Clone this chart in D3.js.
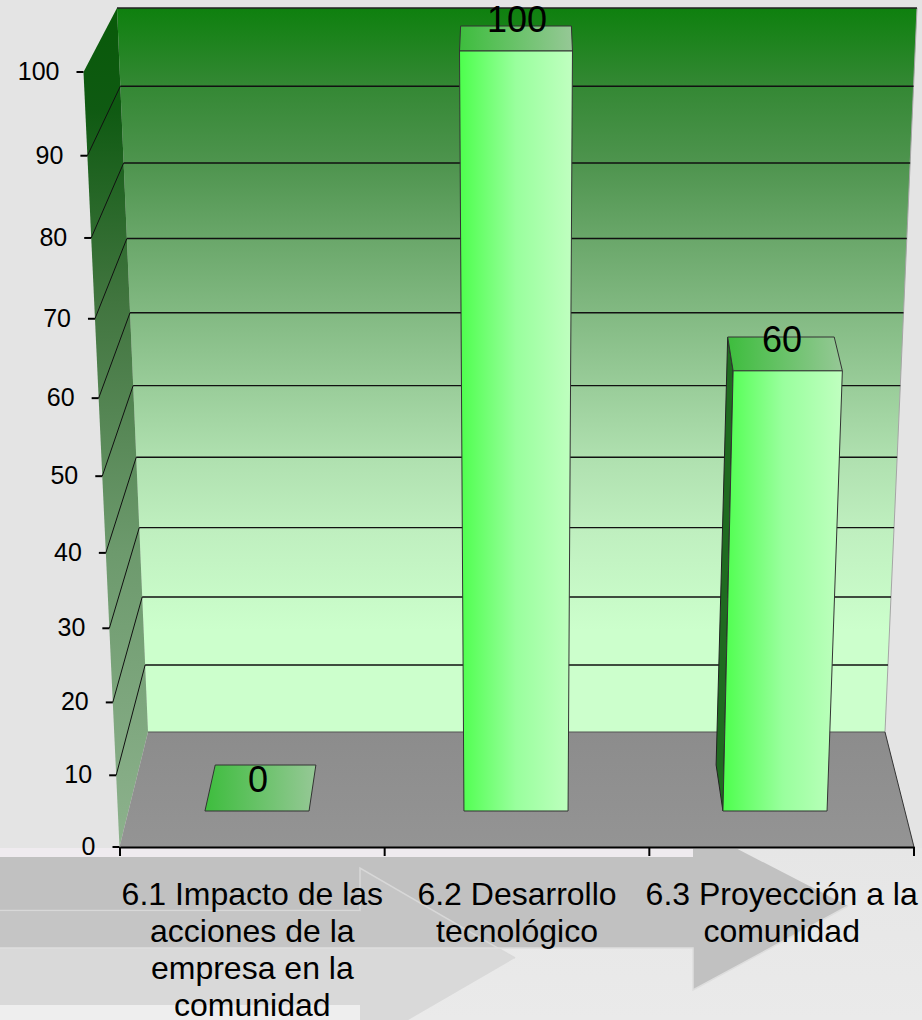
<!DOCTYPE html>
<html>
<head>
<meta charset="utf-8">
<title>Chart</title>
<script src="https://cdn.jsdelivr.net/npm/d3@7"></script>
<style>
body { margin: 0; background: #e4e4e4; }
svg { display: block; }
text { font-family: "Liberation Sans", Arial, sans-serif; fill: #000; }
</style>
</head>
<body>
<script>
// data
var categories = ["6.1", "6.2", "6.3"];
var categoryLines = [
	["6.1 Impacto de las", "acciones de la", "empresa en la", "comunidad"],
	["6.2 Desarrollo", "tecnológico"],
	["6.3 Proyección a la", "comunidad"]
];
var values = [0, 100, 60];
var yTicks = [0, 10, 20, 30, 40, 50, 60, 70, 80, 90, 100];

var width = 922,
    height = 1020;

var svg = d3.select("body").append("svg")
	.attr("width", width)
	.attr("height", height);

var defs = svg.append("defs");

function gradient(id, vertical, stops) {
	var g = defs.append("linearGradient").attr("id", id)
		.attr("x1", 0).attr("y1", 0)
		.attr("x2", vertical ? 0 : 1).attr("y2", vertical ? 1 : 0);
	stops.forEach(function(s) {
		g.append("stop").attr("offset", s[0]).attr("stop-color", s[1]);
	});
}

gradient("wallBack", true, [[0, "#0e800e"], [0.108, "#348834"], [0.214, "#4e944e"], [0.319, "#6aa76a"], [0.42, "#82b982"], [0.525, "#9acd9a"], [0.62, "#afe0af"], [0.72, "#bfefbf"], [0.86, "#ccffcc"], [1, "#ccffcc"]]);
gradient("wallLeft", true, [[0, "#085a08"], [0.12, "#0f5a12"], [0.35, "#41753f"], [0.65, "#6d9a6d"], [1, "#8db28d"]]);
gradient("floor", true, [[0, "#8c8c8c"], [1, "#949494"]]);
gradient("barFront", false, [[0, "#4dff4d"], [0.5, "#99ff9d"], [1, "#c0ffc0"]]);
gradient("barTop", false, [[0, "#3dbd3d"], [1, "#96c896"]]);
gradient("pageBottom", true, [[0, "#e6e6e6"], [1, "#eaeaea"]]);

// the 3d box is in perspective, so equal steps get longer towards the top
function persp(v) {
	var t = v / 100;
	return t / (t + 1.09 * (1 - t));
}

function perspScale(y0, y100) {
	return d3.scaleLinear()
		.domain(yTicks)
		.range(yTicks.map(function(v) { return y0 + (y100 - y0) * persp(v); }));
}

var yFront = perspScale(847, 72),
    yBack = perspScale(732, 8),
    xFrontLeft = perspScale(119.5, 83.5),
    xBackLeft = perspScale(148, 117),
    xBackRight = perspScale(885, 917);

// bars stand on their own front and back planes
var yBarFront = perspScale(811, 51),
    yBarBack = perspScale(765, 26);

var x = d3.scaleBand()
	.domain(categories)
	.range([127.5, 904.5])
	.paddingInner(0.598)
	.paddingOuter(0.299);

var xAxisScale = d3.scaleBand()
	.domain(categories)
	.range([120, 914]);

var xMid = 516;

function barFrontX(px, v) {
	return xMid + (px - xMid) * (1 + 0.085 * persp(v));
}
function barBackX(px, v) {
	return xMid + (px - xMid) * 0.967 * (1 + 0.1 * persp(v));
}

function pts(list) {
	return list.map(function(p) { return p.join(","); }).join(" ");
}

/*
Background arrows
*/
var bg = svg.append("g");
bg.append("rect").attr("y", 848).attr("width", width).attr("height", 172).attr("fill", "url(#pageBottom)");
bg.append("rect").attr("y", 848).attr("width", 693).attr("height", 10).attr("fill", "#efebef");
bg.append("rect").attr("y", 1005).attr("width", 365).attr("height", 15).attr("fill", "#eeeeee");

var arrowSmall = [[0, 912], [360, 912], [360, 868], [515, 958], [360, 1048], [360, 1005], [0, 1005]];
var arrowBig = [[0, 857], [693, 857], [693, 826], [848, 906], [693, 990], [693, 948], [0, 948]];

defs.append("clipPath").attr("id", "belowAxis")
	.append("rect").attr("y", 849).attr("width", width).attr("height", 171);
defs.append("clipPath").attr("id", "bigBand")
	.append("rect").attr("y", 849).attr("width", width).attr("height", 99);

var arrows = bg.append("g").attr("clip-path", "url(#belowAxis)");
arrows.append("polygon").attr("points", pts(arrowSmall)).attr("fill", "#d9d9d9");
arrows.append("polygon").attr("points", pts(arrowBig)).attr("fill", "#c1c1c1");
arrows.append("g").attr("clip-path", "url(#bigBand)")
	.append("polygon").attr("points", pts(arrowSmall))
	.attr("fill", "#fff").attr("fill-opacity", 0.07);
arrows.append("polyline")
	.attr("points", pts([[0, 910.5], [360, 910.5], [360, 868], [515, 958]]))
	.attr("fill", "none").attr("stroke", "#d8d8d8").attr("stroke-width", 1.5);
arrows.append("polyline")
	.attr("points", pts([[0, 948], [693, 948], [693, 990], [848, 906]]))
	.attr("fill", "none").attr("stroke", "#dedede").attr("stroke-width", 1.5);

/*
Box: back wall, left wall, floor
*/
svg.append("polygon")
	.attr("points", pts([[xBackLeft(100), yBack(100)], [xBackRight(100), yBack(100)], [xBackRight(0), yBack(0)], [xBackLeft(0), yBack(0)]]))
	.attr("fill", "url(#wallBack)");

svg.append("polygon")
	.attr("points", pts([[xBackLeft(100), yBack(100)], [xFrontLeft(100), yFront(100)], [xFrontLeft(0), yFront(0)], [xBackLeft(0), yBack(0)]]))
	.attr("fill", "url(#wallLeft)");

svg.append("polygon")
	.attr("points", pts([[xBackLeft(0), yBack(0)], [xBackRight(0), yBack(0)], [914, yFront(0)], [xFrontLeft(0), yFront(0)]]))
	.attr("fill", "url(#floor)");

// right wall edge and top edge
svg.append("line")
	.attr("x1", xBackRight(100)).attr("y1", yBack(100))
	.attr("x2", xBackRight(0)).attr("y2", yBack(0))
	.attr("stroke", "#a5a5a5").attr("stroke-width", 1);
svg.append("line")
	.attr("x1", xBackLeft(100)).attr("y1", yBack(100))
	.attr("x2", xBackRight(100)).attr("y2", yBack(100))
	.attr("stroke", "#222").attr("stroke-width", 1.5);
svg.append("line")
	.attr("x1", xBackLeft(0)).attr("y1", yBack(0))
	.attr("x2", xBackRight(0)).attr("y2", yBack(0))
	.attr("stroke", "#555").attr("stroke-width", 1);
svg.append("line")
	.attr("x1", xBackRight(0)).attr("y1", yBack(0))
	.attr("x2", 914).attr("y2", yFront(0))
	.attr("stroke", "#333").attr("stroke-width", 1);

// gridlines
var gridValues = yTicks.filter(function(v) { return v > 0 && v < 100; });

svg.append("g").selectAll("line")
	.data(gridValues)
	.enter().append("line")
	.attr("x1", function(d) { return xBackLeft(d); })
	.attr("x2", function(d) { return xBackRight(d); })
	.attr("y1", function(d) { return yBack(d); })
	.attr("y2", function(d) { return yBack(d); })
	.attr("stroke", "#111")
	.attr("stroke-width", 1.4);

svg.append("g").selectAll("line")
	.data(gridValues)
	.enter().append("line")
	.attr("x1", function(d) { return xFrontLeft(d); })
	.attr("x2", function(d) { return xBackLeft(d); })
	.attr("y1", function(d) { return yFront(d); })
	.attr("y2", function(d) { return yBack(d); })
	.attr("stroke", "#111")
	.attr("stroke-width", 1);

/*
Bars
*/
var bars = svg.append("g").selectAll("g")
	.data(categories.map(function(c, i) { return { cat: c, value: values[i] }; }))
	.enter().append("g");

function corners(d) {
	var l = x(d.cat),
	    r = l + x.bandwidth(),
	    v = d.value;
	return {
		baseFront: [[barFrontX(l, 0), yBarFront(0)], [barFrontX(r, 0), yBarFront(0)]],
		baseBack: [[barBackX(l, 0), yBarBack(0)], [barBackX(r, 0), yBarBack(0)]],
		topFront: [[barFrontX(l, v), yBarFront(v)], [barFrontX(r, v), yBarFront(v)]],
		topBack: [[barBackX(l, v), yBarBack(v)], [barBackX(r, v), yBarBack(v)]]
	};
}

// side face, only seen when the bar sits right of the middle
bars.filter(function(d) { return d.value > 0 && x(d.cat) > xMid; })
	.append("polygon")
	.attr("points", function(d) {
		var c = corners(d);
		return pts([c.topBack[0], c.topFront[0], c.baseFront[0], c.baseBack[0]]);
	})
	.attr("fill", "#1f6b20")
	.attr("stroke", "#222")
	.attr("stroke-width", 1);

bars.append("polygon")
	.attr("points", function(d) {
		var c = corners(d);
		return pts([c.topBack[0], c.topBack[1], c.topFront[1], c.topFront[0]]);
	})
	.attr("fill", "url(#barTop)")
	.attr("stroke", "#333")
	.attr("stroke-width", 1);

bars.filter(function(d) { return d.value > 0; })
	.append("polygon")
	.attr("points", function(d) {
		var c = corners(d);
		return pts([c.topFront[0], c.topFront[1], c.baseFront[1], c.baseFront[0]]);
	})
	.attr("fill", "url(#barFront)")
	.attr("stroke", "#333")
	.attr("stroke-width", 1);

bars.append("text")
	.attr("text-anchor", "middle")
	.attr("font-size", 36)
	.attr("x", function(d) {
		var px = x(d.cat) + x.bandwidth() / 2;
		return xMid + 1 + (px - xMid) * (1 + 0.04 * persp(d.value));
	})
	.attr("y", function(d) { return yBarFront(d.value) - 19; })
	.text(function(d) { return d.value; });

/*
Axes
*/
var yAxis = svg.append("g")
	.call(d3.axisLeft(yFront).tickValues(yTicks).tickSize(7).tickPadding(17));

yAxis.select(".domain").remove();
yAxis.selectAll(".tick")
	.attr("transform", function(d) { return "translate(" + xFrontLeft(d) + "," + yFront(d) + ")"; });
yAxis.selectAll(".tick line").attr("stroke", "#000").attr("stroke-width", 2);
yAxis.selectAll(".tick text")
	.attr("font-family", null)
	.attr("font-size", 25)
	.style("font-size", "25px");

var xAxis = svg.append("g")
	.attr("transform", "translate(0," + yFront(0) + ")")
	.call(d3.axisBottom(xAxisScale).tickSize(0).tickFormat(""));

xAxis.select(".domain").attr("stroke", "#000").attr("stroke-width", 2);

// ticks sit between the categories
xAxis.selectAll("line.sep")
	.data(d3.range(categories.length + 1))
	.enter().append("line")
	.attr("class", "sep")
	.attr("x1", function(d) { return xAxisScale.range()[0] + d * xAxisScale.step(); })
	.attr("x2", function(d) { return xAxisScale.range()[0] + d * xAxisScale.step(); })
	.attr("y1", 0)
	.attr("y2", 9)
	.attr("stroke", "#000")
	.attr("stroke-width", 2);

var labels = svg.append("g").selectAll("text")
	.data(categories)
	.enter().append("text")
	.attr("text-anchor", "middle")
	.attr("font-size", 32);

labels.selectAll("tspan")
	.data(function(d, i) {
		return categoryLines[i].map(function(t) { return { cat: d, line: t }; });
	})
	.enter().append("tspan")
	.attr("x", function(d) { return xAxisScale(d.cat) + xAxisScale.bandwidth() / 2; })
	.attr("y", function(d, i) { return yFront(0) + 58 + i * 37; })
	.text(function(d) { return d.line; });
</script>
</body>
</html>
